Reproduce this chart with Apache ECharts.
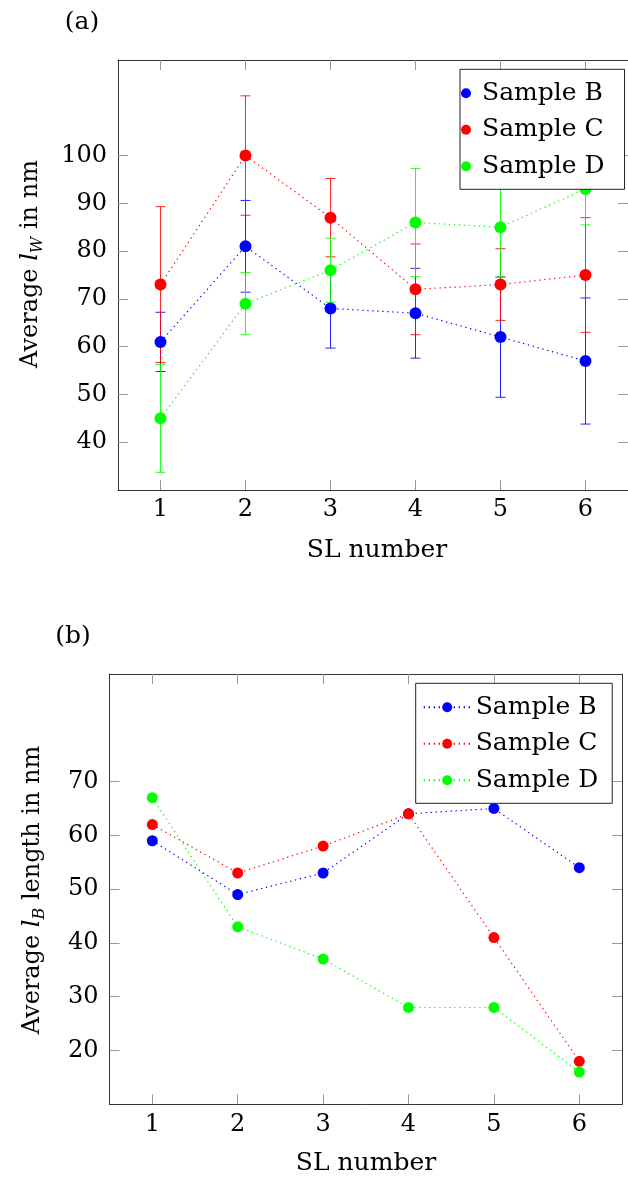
<!DOCTYPE html>
<html>
<head>
<meta charset="utf-8">
<script src="https://cdn.jsdelivr.net/npm/echarts@6/dist/echarts.min.js"></script>
<style>
html,body{margin:0;padding:0;background:#fff;}
#c{width:628px;height:1182px;}
</style>
</head>
<body>
<div id="c"></div>
<script>
// ---- data ----
var categories = ['1', '2', '3', '4', '5', '6'];
var seriesNames = ['Sample B', 'Sample C', 'Sample D'];
// (a) average l_W in nm, with error (half-length of error bar)
var widthB = [61, 81, 68, 67, 62, 57];
var widthC = [73, 100, 87, 72, 73, 75];
var widthD = [45, 69, 76, 86, 85, 93];
var errB = [6.2, 9.6, 8.3, 9.4, 12.6, 13.2];
var errC = [16.3, 12.5, 8.2, 9.5, 7.5, 12.0];
var errD = [11.3, 6.5, 6.7, 11.3, 10.4, 7.5];
// (b) average l_B length in nm
var lengthB = [59, 49, 53, 64, 65, 54];
var lengthC = [62, 53, 58, 64, 41, 18];
var lengthD = [67, 43, 37, 28, 28, 16];
// tick labels
var yTicksA = [40, 50, 60, 70, 80, 90, 100];
var yTicksB = [20, 30, 40, 50, 60, 70];

var colors = ['#0000ff', '#ff0000', '#00ff00'];
var FONT = 'DejaVu Serif';

var chart = echarts.init(document.getElementById('c'), null, {renderer: 'canvas'});

function errData(means, errs) {
  return means.map(function (m, i) { return [i, m - errs[i], m + errs[i]]; });
}
function errRender(color) {
  return function (params, api) {
    var i = api.value(0), lo = api.value(1), hi = api.value(2);
    var pH = api.coord([i, hi]), pL = api.coord([i, lo]);
    var w = 5;
    var st = {stroke: color, lineWidth: 1, opacity: 0.85};
    return {type: 'group', children: [
      {type: 'line', shape: {x1: pH[0], y1: pH[1], x2: pL[0], y2: pL[1]}, style: st},
      {type: 'line', shape: {x1: pH[0] - w, y1: pH[1], x2: pH[0] + w, y2: pH[1]}, style: st},
      {type: 'line', shape: {x1: pL[0] - w, y1: pL[1], x2: pL[0] + w, y2: pL[1]}, style: st}
    ]};
  };
}

function xAx(gridIndex, pos) {
  var bottom = pos === 'bottom';
  return {
    type: 'category', gridIndex: gridIndex, position: pos, data: categories,
    boundaryGap: true,
    axisLine: {show: true, lineStyle: {color: '#333', width: 1}},
    axisTick: {show: true, inside: true, length: 10, alignWithLabel: true, interval: 0, lineStyle: {color: '#999', width: 1}},
    axisLabel: {show: bottom, interval: 0, margin: 8, color: '#000', fontFamily: FONT, fontSize: 24},
    splitLine: {show: false}
  };
}
function yAx(gridIndex, pos, min, max, ticks) {
  var left = pos === 'left';
  return {
    type: 'value', gridIndex: gridIndex, position: pos, min: min, max: max, interval: 10,
    axisLine: {show: true, lineStyle: {color: '#333', width: 1}},
    axisTick: {show: true, inside: true, length: 10, customValues: ticks, lineStyle: {color: '#999', width: 1}},
    axisLabel: {show: left, customValues: ticks, margin: 11, color: '#000', fontFamily: FONT, fontSize: 24},
    splitLine: {show: false}
  };
}

function lineSeries(name, data, color, xi, yi, size) {
  return {
    type: 'line', name: name, data: data, xAxisIndex: xi, yAxisIndex: yi,
    symbol: 'circle', symbolSize: size, showSymbol: true,
    itemStyle: {color: color},
    lineStyle: {color: color, width: 1.2, type: [1.3, 3.7]},
    emphasis: {disabled: true},
    animation: false
  };
}
function errSeries(means, errs, color, xi, yi) {
  return {
    type: 'custom', data: errData(means, errs), xAxisIndex: xi, yAxisIndex: yi,
    encode: {x: 0, y: [1, 2]},
    renderItem: errRender(color), animation: false, silent: true
  };
}

var rich = {
  n: {fontFamily: FONT, fontSize: 24, lineHeight: 30, color: '#000'},
  i: {fontFamily: FONT, fontStyle: 'italic', fontSize: 24, lineHeight: 30, color: '#000'},
  s: {fontFamily: FONT, fontStyle: 'italic', fontSize: 16, lineHeight: 30, verticalAlign: 'bottom', padding: [10, 0, 0, 0], color: '#000'}
};

var option = {
  backgroundColor: '#fff',
  animation: false,
  grid: [
    {left: 118, top: 60, width: 518, height: 430, show: false},
    {left: 109.6, top: 674, width: 512.4, height: 430.3, show: false}
  ],
  xAxis: [xAx(0, 'bottom'), xAx(0, 'top'), xAx(1, 'bottom'), xAx(1, 'top')],
  yAxis: [yAx(0, 'left', 30, 120, yTicksA), yAx(0, 'right', 30, 120, yTicksA),
          yAx(1, 'left', 10, 90, yTicksB), yAx(1, 'right', 10, 90, yTicksB)],
  legend: [
    {
      data: seriesNames, orient: 'vertical', left: 460, top: 69.3,
      icon: 'circle', itemWidth: 22, itemHeight: 10, itemGap: 6.5,
      padding: [9, 20, 8, 1],
      borderColor: '#222', borderWidth: 1, backgroundColor: '#fff',
      textStyle: {fontFamily: FONT, fontSize: 25, lineHeight: 30, color: '#000'},
      selectedMode: false, z: 10
    },
    {
      data: seriesNames, orient: 'vertical', left: 415.7, top: 683.3,
      itemWidth: 47, itemHeight: 12.5, itemGap: 6.5,
      padding: [9, 14, 8, 7],
      borderColor: '#222', borderWidth: 1, backgroundColor: '#fff',
      textStyle: {fontFamily: FONT, fontSize: 25, lineHeight: 30, color: '#000'},
      selectedMode: false, z: 10
    }
  ],
  series: [
    errSeries(widthB, errB, colors[0], 0, 0),
    lineSeries(seriesNames[0], widthB, colors[0], 0, 0, 12),
    errSeries(widthC, errC, colors[1], 0, 0),
    lineSeries(seriesNames[1], widthC, colors[1], 0, 0, 12),
    errSeries(widthD, errD, colors[2], 0, 0),
    lineSeries(seriesNames[2], widthD, colors[2], 0, 0, 12),
    lineSeries(seriesNames[0], lengthB, colors[0], 2, 2, 11),
    lineSeries(seriesNames[1], lengthC, colors[1], 2, 2, 11),
    lineSeries(seriesNames[2], lengthD, colors[2], 2, 2, 11)
  ],
  graphic: [
    {type: 'text', x: 82, y: 22, style: {text: '(a)', fontFamily: FONT, fontSize: 25, fill: '#000', align: 'center', verticalAlign: 'middle'}},
    {type: 'text', x: 73, y: 636, style: {text: '(b)', fontFamily: FONT, fontSize: 25, fill: '#000', align: 'center', verticalAlign: 'middle'}},
    {type: 'text', x: 377, y: 550, style: {text: 'SL number', fontFamily: FONT, fontSize: 25, fill: '#000', align: 'center', verticalAlign: 'middle'}},
    {type: 'text', x: 366, y: 1163, style: {text: 'SL number', fontFamily: FONT, fontSize: 25, fill: '#000', align: 'center', verticalAlign: 'middle'}},
    {type: 'text', x: 31, y: 264, rotation: Math.PI / 2,
      style: {text: '{n|Average }{i|l}{s|W}{n| in nm}', rich: rich, align: 'center', verticalAlign: 'middle'}},
    {type: 'text', x: 33, y: 890, rotation: Math.PI / 2,
      style: {text: '{n|Average }{i|l}{s|B}{n| length in nm}', rich: rich, align: 'center', verticalAlign: 'middle'}}
  ]
};
chart.setOption(option);
</script>
</body>
</html>
